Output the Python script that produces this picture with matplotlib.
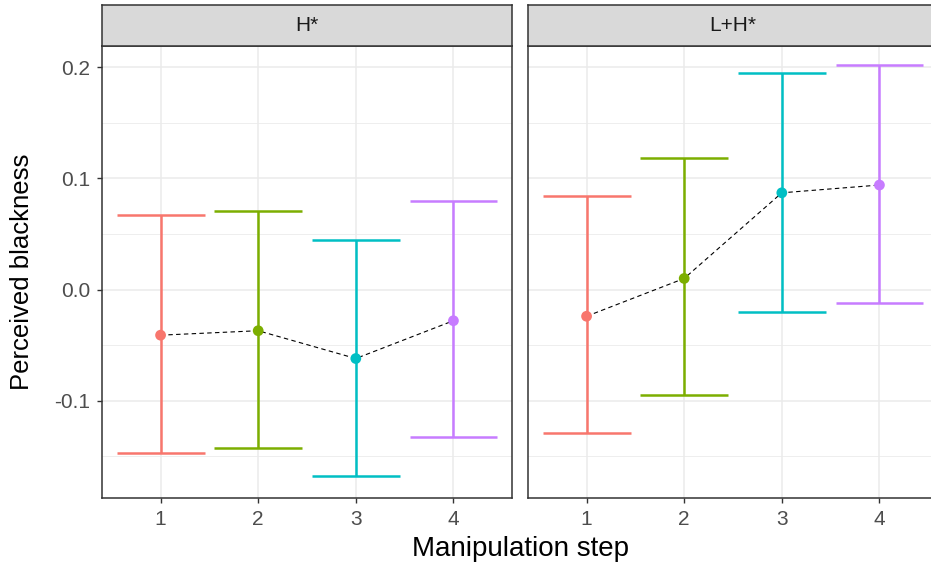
import matplotlib
matplotlib.use("Agg")
import matplotlib.pyplot as plt

plt.rcParams['font.family'] = ['Liberation Sans', 'DejaVu Sans']

steps = [1, 2, 3, 4]
step_labels = ['1', '2', '3', '4']
accents = ['H*', 'L+H*']
colors = ['#F8766D', '#7CAE00', '#00BFC4', '#C77CFF']

h_mean = [-0.041, -0.037, -0.062, -0.028]
h_lower = [-0.147, -0.142, -0.168, -0.133]
h_upper = [0.067, 0.071, 0.045, 0.080]

lh_mean = [-0.024, 0.010, 0.087, 0.094]
lh_lower = [-0.129, -0.095, -0.020, -0.012]
lh_upper = [0.084, 0.118, 0.195, 0.202]

yticks = [-0.1, 0.0, 0.1, 0.2]
ytick_labels = ['-0.1', '0.0', '0.1', '0.2']
yminor = [-0.15, -0.05, 0.05, 0.15]

W, H = 931, 567
fig = plt.figure(figsize=(W / 100, H / 100), dpi=100)

panel_top = 46
panel_bot = 498
strip_top = 5
panels = [(102, 512), (528, 938)]
data = [(h_mean, h_lower, h_upper), (lh_mean, lh_lower, lh_upper)]

dark = '#333333'
for i, ((x0, x1), (m, lo, up), name) in enumerate(zip(panels, data, accents)):
    ax = fig.add_axes([x0 / W, 1 - panel_bot / H, (x1 - x0) / W, (panel_bot - panel_top) / H])
    ax.set_xlim(0.4, 4.6)
    ax.set_ylim(-0.1874, 0.219)
    ax.set_yticks(yticks)
    ax.set_yticks(yminor, minor=True)
    ax.set_xticks(steps)
    ax.set_xticklabels(step_labels)
    ax.grid(True, which='major', color='#EBEBEB', lw=1.1)
    ax.grid(True, which='minor', axis='y', color='#EBEBEB', lw=0.6)
    ax.set_axisbelow(True)
    for s in ax.spines.values():
        s.set_color(dark)
        s.set_linewidth(1.1)
    ax.tick_params(which='major', length=3.6, width=1.0, color=dark, labelcolor='#4D4D4D',
                   labelsize=15, pad=5)
    ax.tick_params(which='minor', length=0)
    if i == 0:
        ax.set_yticklabels(ytick_labels)
    else:
        ax.tick_params(axis='y', which='major', length=0, labelleft=False)

    # error bars
    for xs, l, u, c in zip(steps, lo, up, colors):
        ax.vlines(xs, l, u, color=c, lw=1.8, zorder=3)
        ax.hlines([l, u], xs - 0.45, xs + 0.45, color=c, lw=1.8, zorder=3)
    ax.plot(steps, m, color='black', lw=0.8, ls=(0, (4, 3)), zorder=4)
    ax.scatter(steps, m, c=colors, s=60, zorder=5, edgecolors='none')

    # strip
    sax = fig.add_axes([x0 / W, 1 - panel_top / H, (x1 - x0) / W, (panel_top - strip_top) / H])
    sax.set_facecolor('#D9D9D9')
    sax.set_xticks([])
    sax.set_yticks([])
    for s in sax.spines.values():
        s.set_color(dark)
        s.set_linewidth(1.1)
    sax.text(0.5, 0.5, name, ha='center', va='center', fontsize=15, color='#1A1A1A',
             transform=sax.transAxes)

fig.text(22 / W, 1 - 271.5 / H, 'Perceived blackness', rotation=90, ha='center', va='center',
         fontsize=18.5, color='black')
fig.text(520 / W, 1 - 549 / H, 'Manipulation step', ha='center', va='center',
         fontsize=20, color='black')

fig.savefig('out.png', dpi=100)
